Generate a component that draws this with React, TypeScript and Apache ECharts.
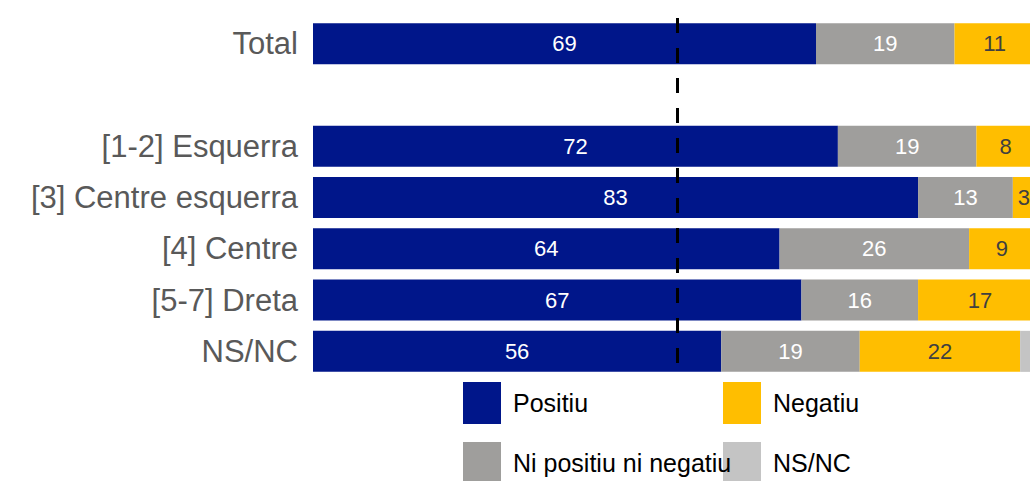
import React, { useEffect, useRef } from "react";
import * as echarts from "echarts";

const categories = ["Total", "", "[1-2] Esquerra", "[3] Centre esquerra", "[4] Centre", "[5-7] Dreta", "NS/NC"];
const positiu = [69, null, 72, 83, 64, 67, 56];
const niPositiuNiNegatiu = [19, null, 19, 13, 26, 16, 19];
const negatiu = [11, null, 8, 3, 9, 17, 22];
const nsnc = [1, null, 1, 1, 1, 0, 3];
const referenceValue = 50;

const colors = {
  positiu: "#00168A",
  ni: "#9F9E9C",
  negatiu: "#FFBE00",
  nsnc: "#C4C4C4",
};

const FONT = "Liberation Sans, Arial, sans-serif";

export default function App() {
  const ref = useRef<HTMLDivElement>(null);
  useEffect(() => {
    if (!ref.current) return;
    const chart = echarts.init(ref.current, undefined, { renderer: "svg" });
    const labelBase = {
      show: true,
      position: "inside",
      fontSize: 22,
      fontFamily: FONT,
      formatter: (p: any) => (p.value ? String(p.value) : ""),
    };
    const legendBase = {
      orient: "vertical",
      top: 382,
      height: 160,
      itemWidth: 38,
      itemHeight: 42,
      itemGap: 18,
      padding: 0,
      icon: "rect",
      textStyle: { fontSize: 25, color: "#000", padding: [0, 0, 0, 7], fontFamily: FONT },
    };
    chart.setOption({
      animation: false,
      grid: { left: 313, width: 729, top: 18, bottom: 104, containLabel: false, outerBoundsMode: "none" },
      xAxis: {
        type: "value",
        min: 0,
        max: 100,
        show: false,
        splitLine: { show: false },
      },
      yAxis: {
        type: "category",
        data: categories,
        inverse: true,
        axisLine: { show: false },
        axisTick: { show: false },
        axisLabel: {
          fontSize: 31,
          color: "#595959",
          margin: 15,
          fontFamily: FONT,
        },
      },
      legend: [
        { ...legendBase, data: ["Negatiu", "NS/NC"], left: 723, z: 4 },
        { ...legendBase, data: ["Positiu", "Ni positiu ni negatiu"], left: 463, z: 6 },
      ],
      series: [
        {
          name: "Positiu",
          type: "bar",
          stack: "s",
          data: positiu,
          barCategoryGap: "20%",
          itemStyle: { color: colors.positiu },
          label: { ...labelBase, color: "#fff" },
          markLine: {
            silent: true,
            symbol: "none",
            label: { show: false },
            lineStyle: { color: "#000", width: 3, type: [15, 15] },
            data: [{ xAxis: referenceValue }],
            z: 10,
          },
        },
        {
          name: "Ni positiu ni negatiu",
          type: "bar",
          stack: "s",
          data: niPositiuNiNegatiu,
          itemStyle: { color: colors.ni },
          label: { ...labelBase, color: "#fff" },
        },
        {
          name: "Negatiu",
          type: "bar",
          stack: "s",
          data: negatiu,
          itemStyle: { color: colors.negatiu },
          label: { ...labelBase, color: "#404040" },
        },
        {
          name: "NS/NC",
          type: "bar",
          stack: "s",
          data: nsnc,
          itemStyle: { color: colors.nsnc },
          label: { show: false },
        },
      ],
    });
    return () => chart.dispose();
  }, []);
  return <div ref={ref} style={{ width: 1030, height: 481, position: "absolute", left: 0, top: 0 }} />;
}
